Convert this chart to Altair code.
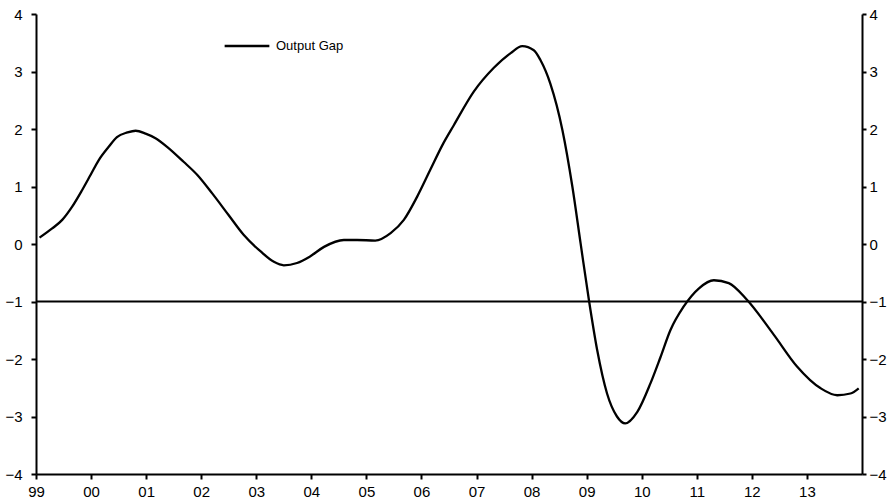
import altair as alt
import pandas as pd

# decimal year positions and output-gap values
years = [1999.064, 1999.294, 1999.476, 1999.657, 1999.839, 1999.99, 2000.14, 2000.32,
         2000.47, 2000.66, 2000.81, 2000.99, 2001.17, 2001.38, 2001.68, 2001.93,
         2002.20, 2002.50, 2002.77, 2003.08, 2003.32, 2003.50, 2003.74, 2003.97,
         2004.23, 2004.59, 2004.83, 2005.16, 2005.44, 2005.68, 2005.92, 2006.16,
         2006.38, 2006.59, 2006.95, 2007.31, 2007.62, 2007.83, 2008.04, 2008.16,
         2008.34, 2008.56, 2008.74, 2008.89, 2009.04, 2009.19, 2009.37, 2009.55,
         2009.70, 2009.92, 2010.16, 2010.34, 2010.52, 2010.76, 2011.04, 2011.31,
         2011.58, 2011.91, 2012.40, 2012.82, 2013.25, 2013.55, 2013.79, 2013.94]
gap = [0.11, 0.27, 0.42, 0.65, 0.94, 1.20, 1.46, 1.69,
       1.86, 1.94, 1.97, 1.92, 1.84, 1.69, 1.43, 1.20,
       0.88, 0.50, 0.16, -0.13, -0.31, -0.37, -0.33, -0.22,
       -0.05, 0.07, 0.07, 0.06, 0.19, 0.42, 0.82, 1.29,
       1.72, 2.07, 2.65, 3.06, 3.32, 3.44, 3.37, 3.20,
       2.79, 1.98, 1.00, 0.01, -0.97, -1.84, -2.60, -3.00,
       -3.12, -2.92, -2.42, -1.97, -1.50, -1.09, -0.77, -0.63,
       -0.68, -0.97, -1.58, -2.13, -2.51, -2.63, -2.60, -2.51]
series_name = "Output Gap"
tick_years = list(range(1999, 2014))
y_ticks = list(range(-4, 5))
ref_level = [-1]

df = pd.DataFrame({"t": years, "gap": gap, "series": [series_name] * len(years)})
ref_df = pd.DataFrame({"level": ref_level})

FONT = "Liberation Sans"
yscale = alt.Scale(domain=[-4, 4], nice=False, zero=False)

x_enc = alt.X(
    "t:Q",
    scale=alt.Scale(domain=[1999, 2014], nice=False, zero=False),
    axis=alt.Axis(
        values=tick_years,
        labelExpr="substring(toString(datum.value), 2)",
        title=None, grid=False, labelFlush=False, labelOverlap=False,
        domainColor="black", domainWidth=2, tickColor="black", tickWidth=2,
        tickSize=5, labelPadding=5, labelFontSize=15, labelFont=FONT,
        labelColor="black",
    ),
)

def yaxis(orient, pad, tsize):
    return alt.Axis(
        orient=orient, values=y_ticks, title=None, grid=False,
        domainColor="black", domainWidth=2, tickColor="black", tickWidth=2,
        tickSize=tsize, labelPadding=pad, labelFontSize=15, labelFont=FONT,
        labelColor="black", labelFlush=False,
    )

line = alt.Chart(df).mark_line(strokeWidth=2.3, interpolate="monotone").encode(
    x=x_enc,
    y=alt.Y("gap:Q", scale=yscale, axis=yaxis("left", 9, 5)),
    color=alt.Color(
        "series:N",
        scale=alt.Scale(range=["black"]),
        legend=alt.Legend(
            title=None, orient="none", legendX=187, legendY=8,
            symbolType="stroke", symbolSize=2000, symbolStrokeWidth=2.3,
            labelFont=FONT, labelFontSize=13, labelColor="black",
            labelOffset=5, padding=0,
        ),
    ),
)

right = alt.Chart(df).mark_line(opacity=0).encode(
    x=x_enc,
    y=alt.Y("gap:Q", scale=yscale, axis=yaxis("right", 3, 4)),
)

rule = alt.Chart(ref_df).mark_rule(color="black", strokeWidth=2).encode(
    y=alt.Y("level:Q", scale=yscale, axis=None),
)

chart = (
    alt.layer(rule, line, right)
    .resolve_scale(y="independent")
    .properties(
        width=826, height=460,
        padding={"left": 36, "top": 14, "right": 32, "bottom": 28},
        autosize=alt.AutoSizeParams(type="none"),
        background="white",
    )
    .configure_view(stroke=None)
)

chart.save("out.html", embed_options={"renderer": "svg", "actions": False})
